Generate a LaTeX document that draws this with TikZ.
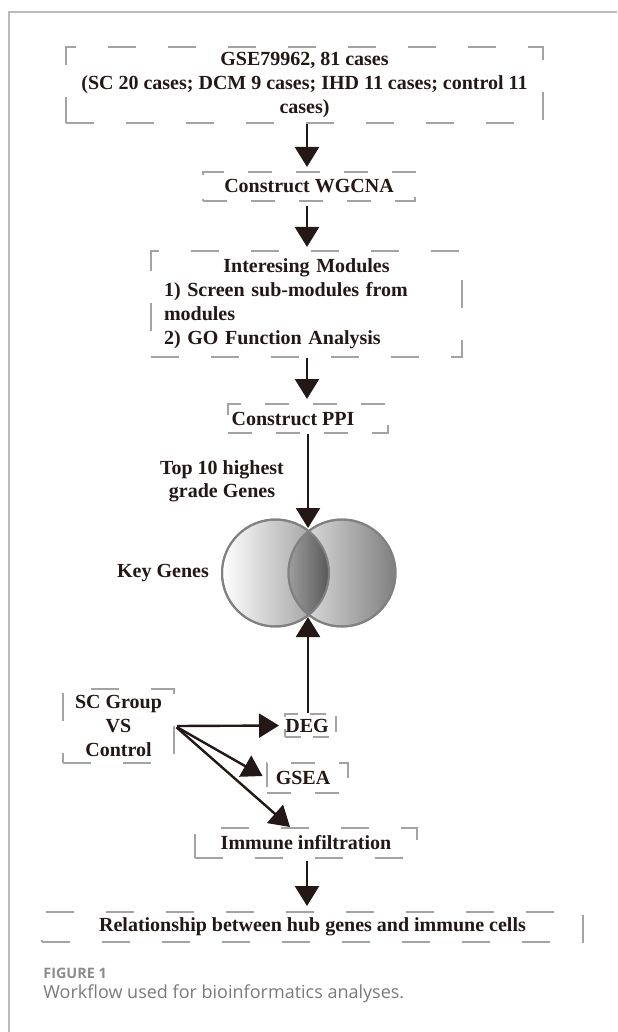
\documentclass[tikz,border=0pt]{standalone}
\usepackage{fontspec}
\setmainfont{Liberation Serif}
\newfontfamily\capfont{Open Sans}
\usetikzlibrary{arrows.meta,calc}
\definecolor{ink}{HTML}{231815}
\definecolor{dashgray}{HTML}{A3A3A3}
\definecolor{framegray}{HTML}{BBBBBB}
\definecolor{capgray}{HTML}{7A7A7A}
\definecolor{capgrayb}{HTML}{8C8C8C}
\begin{document}
\begin{tikzpicture}[x=0.5pt,y=-0.5pt,
  every node/.style={font=\bfseries\fontsize{10pt}{12pt}\selectfont, text=ink},
  dbox/.style={draw=dashgray, line width=1pt, dash pattern=on 14pt off 16pt, inner sep=0pt},
  sbox/.style={dbox, dash pattern=on 12pt off 12pt},
  arr/.style={draw=ink, line width=1.2pt, -{Triangle[width=12pt,length=10pt]}},
  venn/.style={circle, minimum size=53.5pt, inner sep=0pt, draw=black!50, line width=1pt},
]
\useasboundingbox (0,0) rectangle (617,1032);
\draw[framegray, line width=0.8pt] (9,1032) -- (9,12) -- (617,12);

% boxes
\node[dbox, minimum width=238.5pt, minimum height=38pt, align=center] (gse) at (304.5,85)
  {GSE79962, 81 cases\\(SC 20 cases; DCM 9 cases; IHD 11 cases; control 11\\cases)};
\node[sbox, minimum width=106pt, minimum height=14.5pt] (wgcna) at (309,186.5) {Construct WGCNA};
\node[dbox, minimum width=155.5pt, minimum height=53pt, text width=142.5pt, inner xsep=6.5pt, align=left] (mods) at (306.5,304)
  {\makebox[142.5pt]{Interesing Modules}\\1) Screen sub-modules from\\modules\\2) GO Function Analysis};
\node[sbox, minimum width=80pt, minimum height=14.5pt] (ppi) at (308,418.5) {\hspace*{-15pt}Construct PPI};
\node[dbox, minimum width=55.5pt, minimum height=37pt, align=center] (sc) at (118.5,726) {SC Group\\VS\\Control};
\node[sbox, minimum width=25.5pt, minimum height=11.5pt, dash pattern=on 8pt off 6pt] (deg) at (310.5,725.5) {\hspace*{-3.5pt}DEG};
\node[sbox, minimum width=40.5pt, minimum height=15pt] (gsea) at (307.5,778) {\hspace*{-4.5pt}GSEA};
\node[dbox, minimum width=111pt, minimum height=15pt] (imm) at (306,843) {Immune infiltration};
\node[dbox, minimum width=270.5pt, minimum height=15pt] (rel) at (312.5,927) {Relationship between hub genes and immune cells};

% labels
\node[align=center, font=\bfseries\fontsize{10pt}{11.5pt}\selectfont] (top10) at (222,481.5) {Top 10 highest\\grade Genes};
\node (key) at (163,573) {Key Genes};

% venn
\node[venn, left color=white, right color=black!42] (cl) at (275.5,573) {};
\node[venn, left color=black!8, right color=black!50] (cr) at (342,573) {};
\begin{scope}
  \clip (cl.center) circle[radius=26.75pt];
  \clip (cr.center) circle[radius=26.75pt];
  \shade[left color=black!38, right color=black!66] (288,515) rectangle (330,631);
\end{scope}
\draw[black!50, line width=1pt] (cl.center) circle[radius=26.75pt] (cr.center) circle[radius=26.75pt];
\coordinate (ktop) at (308,528);
\coordinate (kbot) at (308,617);
\coordinate (axis) at (307,0);

% connectors
\draw[arr, shorten >=2pt] (gse.south -| axis) -- (wgcna.north -| axis);
\draw[arr, shorten <=2pt, shorten >=1.5pt] (wgcna.south -| axis) -- (mods.north -| axis);
\draw[arr, shorten >=2pt] (mods.south -| axis) -- (ppi.north -| axis);
\draw[arr] (ppi.south -| ktop) -- (ktop);
\draw[arr] (deg.north -| kbot) -- (kbot);
\draw[arr, shorten <=1pt, shorten >=2.5pt] (sc.east) -- (deg.west);
\draw[arr, shorten <=1pt, shorten >=2pt] (sc.east) -- (gsea.west);
\draw[arr, shorten <=1pt] (sc.east) -- ($(imm.north)+(-16,0)$);
\draw[arr, shorten <=1pt, shorten >=2.5pt] (imm.south -| axis) -- (rel.north -| axis);

% caption
\node[anchor=west, inner sep=0pt, font=\capfont\bfseries\fontsize{7.2pt}{8.5pt}\selectfont, text=capgrayb] (fig) at (43,973) {FIGURE 1};
\node[anchor=west, inner sep=0pt, font=\capfont\fontsize{9pt}{10pt}\selectfont, text=capgray] (cap) at (43,994) {Workflow used for bioinformatics analyses.};
\end{tikzpicture}
\end{document}
